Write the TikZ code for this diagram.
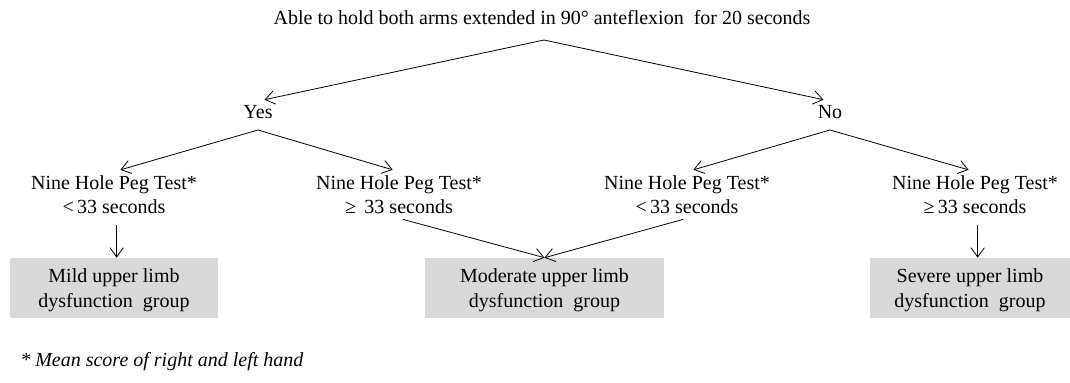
\documentclass[tikz,border=0pt]{standalone}
\usepackage{fontspec}
\setmainfont{Liberation Serif}
\usetikzlibrary{arrows.meta,calc,positioning}
\usepackage{color}

\definecolor{boxgray}{RGB}{217,217,217}

\tikzset{
  arr/.style={draw, line width=0.6pt, -{Straight Barb[length=7pt,width=10pt]}},
  txt/.style={align=center, inner sep=3pt, font=\fontsize{15}{18}\selectfont},
  group/.style={txt, font=\fontsize{15}{19}\selectfont, fill=boxgray, minimum height=45pt},
}

\begin{document}
\begin{tikzpicture}[x=0.75pt,y=-0.75pt]
\useasboundingbox (0,0) rectangle (1070,382);

% question and answers
\node [txt] (top) at (542,18) {Able to hold both arms extended in 90° anteflexion\ \ for 20 seconds};
\node [txt] (yes) at (258,112) {Yes};
\node [txt] (no) at (830,112) {No};

\coordinate (topsplit) at (544,40);
\coordinate (yessplit) at (258,130);
\coordinate (nosplit) at (830,130);

% test results
\def\tests{yl/114/{<},yr/399/{≥\ },nl/687/{<},nr/975/{≥}}
\foreach \name / \x / \sign in \tests
  \node [txt] (\name) at (\x,195) {Nine Hole Peg Test*\\ \sign\,33 seconds};

% groups
\def\groups{mild/114/208/{Mild},moderate/544.5/239/{Moderate},severe/970/200/{Severe}}
\foreach \name / \x / \w / \level in \groups
  \node [group, minimum width=\w*0.75pt] (\name) at (\x,288) {\rule{0pt}{14pt}\level\ upper limb\\ dysfunction\ \ group};

\node [txt, anchor=west, font=\fontsize{15}{18}\selectfont\itshape] (note) at (16,362) {* Mean score of right and left hand};

\draw [arr, shorten >=5pt] (topsplit) -- (yes.north);
\draw [arr, shorten >=5pt] (topsplit) -- (no.north);
\draw [arr, shorten >=5pt] (yessplit) -- (yl.north);
\draw [arr, shorten >=5pt] (yessplit) -- (yr.north);
\draw [arr, shorten >=5pt] (nosplit) -- (nl.north);
\draw [arr, shorten >=5pt] (nosplit) -- (nr.north);

\draw [arr, shorten <=5pt] ([xshift=2pt]yl.south) -- ([xshift=2pt]yl.south |- mild.north);
\draw [arr, shorten <=3pt] (yr.south) -- (moderate.north);
\draw [arr, shorten <=3pt] (nl.south) -- (moderate.north);
\draw [arr, shorten <=5pt] ([xshift=2pt]nr.south) -- ([xshift=2pt]nr.south |- severe.north);

\end{tikzpicture}
\end{document}
